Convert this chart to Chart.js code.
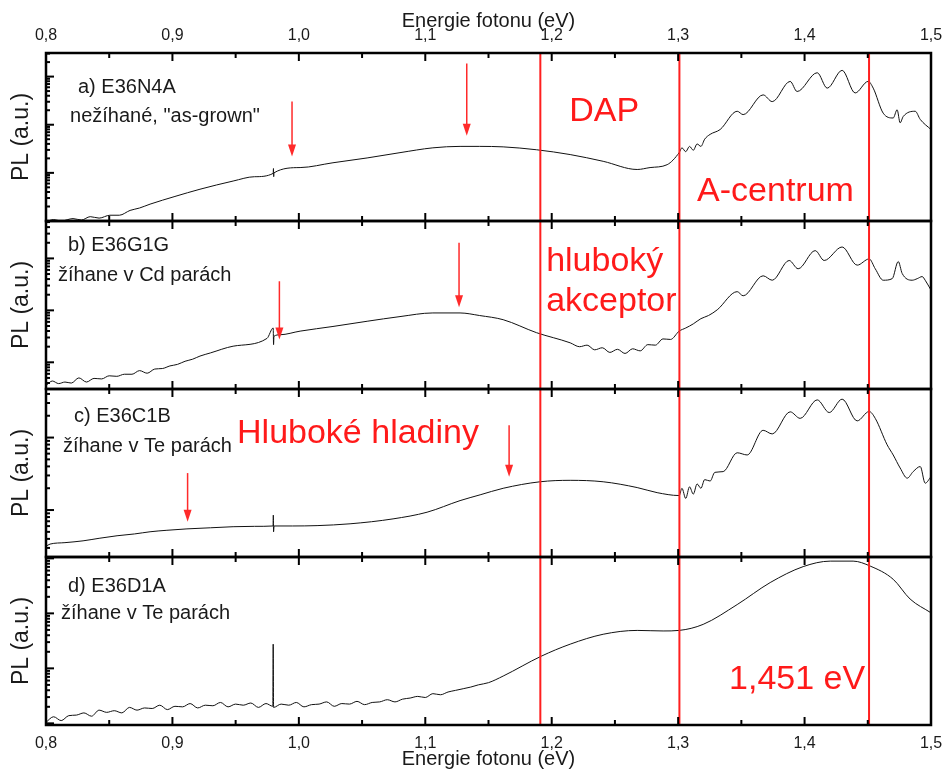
<!DOCTYPE html>
<html>
<head>
<meta charset="utf-8">
<script src="https://cdn.jsdelivr.net/npm/chart.js@4.4.1/dist/chart.umd.min.js"></script>
<style>
  body { margin: 0; background: #fff; }
  canvas { display: block; }
</style>
</head>
<body>
<canvas id="plChart" width="947" height="769"></canvas>
<script>
// Fotoluminiscence CdTe vzorku - 4 panely, log osa PL
// energie (eV) a log10(PL)

const eA = [0.800, 0.806, 0.812, 0.8214, 0.828, 0.835, 0.842, 0.8506, 0.858, 0.8665, 0.874, 0.8823, 0.902, 0.9218, 0.948, 0.965,
  0.9797, 0.9799, 0.9801, 0.9803, 1.001, 1.027, 1.054, 1.080, 1.106, 1.1275, 1.143, 1.1616, 1.188, 1.2146, 1.2407, 1.2676, 1.2778,
  1.2913, 1.3008, 1.303, 1.306, 1.309, 1.312, 1.315, 1.318, 1.321, 1.3253, 1.3332, 1.3467, 1.3514, 1.3672, 1.3744, 1.3886, 1.3941,
  1.410, 1.4179, 1.4297, 1.440, 1.4503, 1.4543, 1.4622, 1.4701, 1.4732, 1.4756, 1.478, 1.4875, 1.4915, 1.500];
const plA = [-0.02, 0.03, 0.00, 0.05, 0.02, 0.09, 0.06, 0.12, 0.12, 0.22, 0.27, 0.35, 0.51, 0.66, 0.83, 0.92,
  0.99, 1.09, 0.92, 1.00, 1.11, 1.21, 1.31, 1.42, 1.52, 1.55, 1.55, 1.54, 1.48, 1.38, 1.24, 1.07, 1.11,
  1.17, 1.42, 1.52, 1.44, 1.55, 1.47, 1.60, 1.55, 1.70, 1.80, 1.90, 2.28, 2.21, 2.62, 2.48, 2.90, 2.69,
  3.08, 2.76, 3.13, 2.66, 2.90, 2.76, 2.24, 2.14, 2.31, 2.04, 2.17, 2.28, 2.11, 1.90];

const eB = [0.800, 0.805, 0.810, 0.815, 0.820, 0.826, 0.832, 0.838, 0.844, 0.850, 0.856, 0.862, 0.868, 0.874, 0.880, 0.886, 0.892,
  0.898, 0.904, 0.910, 0.916, 0.9218, 0.930, 0.948, 0.9748, 0.9797, 0.980, 0.9803, 0.9851, 1.001, 1.027, 1.054, 1.080, 1.106, 1.1275,
  1.143, 1.1616, 1.188, 1.2146, 1.222, 1.228, 1.234, 1.240, 1.246, 1.252, 1.258, 1.264, 1.270, 1.276, 1.282, 1.288, 1.294, 1.3008,
  1.306, 1.312, 1.318, 1.324, 1.3309, 1.3467, 1.3514, 1.3672, 1.3744, 1.3878, 1.3949, 1.4084, 1.4155, 1.4297, 1.4416, 1.4511, 1.4559,
  1.4622, 1.4693, 1.4741, 1.4772, 1.4851, 1.4891, 1.4930, 1.4954, 1.500];
const plB = [0.55, 0.64, 0.59, 0.62, 0.60, 0.70, 0.62, 0.69, 0.68, 0.74, 0.73, 0.77, 0.77, 0.84, 0.79, 0.87, 0.88,
  0.93, 0.96, 1.02, 1.06, 1.12, 1.18, 1.31, 1.46, 1.66, 1.34, 1.50, 1.53, 1.60, 1.69, 1.79, 1.88, 1.95, 1.95,
  1.90, 1.82, 1.57, 1.375, 1.30, 1.33, 1.24, 1.28, 1.19, 1.25, 1.17, 1.26, 1.22, 1.34, 1.33, 1.45, 1.44, 1.60,
  1.66, 1.74, 1.84, 1.90, 2.01, 2.36, 2.28, 2.665, 2.58, 2.96, 2.80, 3.15, 2.96, 3.22, 2.87, 2.99, 2.80,
  2.58, 2.61, 2.94, 2.71, 2.58, 2.61, 2.65, 2.58, 2.39];

const eC = [0.800, 0.8032, 0.815, 0.8293, 0.842, 0.8562, 0.870, 0.8823, 0.895, 0.9115, 0.930, 0.948, 0.965, 0.9796, 0.9798, 0.980, 0.9804,
  0.995, 1.0144, 1.0405, 1.0745, 1.1014, 1.1275, 1.1434, 1.1616, 1.1908, 1.2146, 1.2407, 1.2676, 1.2834, 1.3008, 1.303, 1.306, 1.309,
  1.312, 1.315, 1.318, 1.321, 1.3253, 1.329, 1.3356, 1.3467, 1.3546, 1.3672, 1.3744, 1.3886, 1.3965, 1.410, 1.4195, 1.4297, 1.4416,
  1.4511, 1.4559, 1.4653, 1.4701, 1.4756, 1.4812, 1.4859, 1.4915, 1.4954, 1.500];
const plC = [0.50, 0.53, 0.55, 0.575, 0.61, 0.645, 0.67, 0.70, 0.72, 0.74, 0.755, 0.77, 0.775, 0.78, 0.93, 0.70, 0.78,
  0.78, 0.785, 0.81, 0.878, 0.97, 1.13, 1.21, 1.30, 1.39, 1.41, 1.39, 1.31, 1.24, 1.20, 1.30, 1.16, 1.32,
  1.22, 1.36, 1.30, 1.42, 1.40, 1.52, 1.53, 1.79, 1.76, 2.10, 2.05, 2.355, 2.265, 2.52, 2.345, 2.53, 2.23,
  2.36, 2.265, 1.90, 1.76, 1.58, 1.44, 1.53, 1.60, 1.37, 1.46];

const eD = [0.800, 0.806, 0.812, 0.818, 0.824, 0.830, 0.836, 0.842, 0.848, 0.854, 0.860, 0.866, 0.872, 0.878, 0.884, 0.890, 0.896,
  0.902, 0.908, 0.914, 0.920, 0.926, 0.932, 0.938, 0.944, 0.950, 0.956, 0.962, 0.968, 0.974, 0.9794, 0.9797, 0.980, 0.986, 0.992,
  0.998, 1.004, 1.010, 1.016, 1.022, 1.028, 1.034, 1.040, 1.046, 1.052, 1.058, 1.064, 1.070, 1.076, 1.082, 1.088, 1.094, 1.100,
  1.106, 1.112, 1.118, 1.124, 1.130, 1.136, 1.142, 1.150, 1.1616, 1.1916, 1.2146, 1.2407, 1.2676, 1.2881, 1.3008, 1.3198, 1.3467,
  1.3728, 1.3989, 1.4203, 1.4384, 1.4519, 1.4701, 1.4835, 1.500];
const plD = [0.02, 0.12, 0.05, 0.14, 0.15, 0.19, 0.13, 0.24, 0.20, 0.23, 0.19, 0.29, 0.24, 0.28, 0.27, 0.33, 0.25,
  0.31, 0.30, 0.36, 0.28, 0.33, 0.32, 0.38, 0.30, 0.35, 0.33, 0.37, 0.29, 0.36, 0.31, 1.44, 0.29, 0.35, 0.33,
  0.38, 0.30, 0.34, 0.35, 0.39, 0.31, 0.36, 0.35, 0.40, 0.34, 0.38, 0.39, 0.43, 0.39, 0.44, 0.46, 0.49, 0.47,
  0.54, 0.52, 0.57, 0.60, 0.63, 0.66, 0.70, 0.74, 0.86, 1.22, 1.44, 1.62, 1.69, 1.68, 1.69, 1.80, 2.16,
  2.56, 2.85, 2.95, 2.95, 2.86, 2.62, 2.26, 2.01];

const energies = [eA, eB, eC, eD];
const plLogs = [plA, plB, plC, plD];

// rozsahy log osy kazdeho panelu (log10)
const panelIds = ['yA', 'yB', 'yC', 'yD'];
const panelLogMin = [0, 0.486, 0.352, -0.03];
const panelLogMax = [3.49, 3.72, 2.67, 3.025];

const xTickStep = 0.1;
const markerLines = [1.191, 1.301, 1.451];

// popisky vzorku: [panel, energie, log10 PL, text]
const sampleLabels = [
  ['yA', 0.8253, 2.77, 'a) E36N4A'],
  ['yA', 0.819, 2.17, 'nežíhané, "as-grown"'],
  ['yB', 0.8174, 3.24, 'b) E36G1G'],
  ['yB', 0.8095, 2.67, 'žíhane v Cd parách'],
  ['yC', 0.8222, 2.29, 'c) E36C1B'],
  ['yC', 0.8134, 1.88, 'žíhane v Te parách'],
  ['yD', 0.8174, 2.49, 'd) E36D1A'],
  ['yD', 0.8119, 2.00, 'žíhane v Te parách']
];
const redLabels = [
  ['yA', 1.2138, 2.27, 'DAP'],
  ['yA', 1.315, 0.615, 'A-centrum'],
  ['yB', 1.1956, 2.94, 'hluboký'],
  ['yB', 1.1956, 2.175, 'akceptor'],
  ['yC', 0.9511, 2.05, 'Hluboké hladiny'],
  ['yD', 1.3403, 0.80, '1,451 eV']
];
// sipky: [panel, energie, log od, log do]
const arrows = [
  ['yA', 0.9946, 2.48, 1.34],
  ['yA', 1.1328, 3.27, 1.77],
  ['yB', 0.9846, 2.56, 1.44],
  ['yB', 1.1267, 3.30, 2.06],
  ['yC', 0.912, 1.51, 0.84],
  ['yC', 1.1663, 2.17, 1.46]
];

const FONT = 'Arial, "Liberation Sans", sans-serif';
Chart.defaults.font.family = FONT;
Chart.defaults.color = '#1a1a1a';

const panelDecor = {
  id: 'panelDecor',
  afterDatasetsDraw(chart) {
    const ctx = chart.ctx;
    const x = chart.scales.x;
    const area = chart.chartArea;
    const seg = (x1, y1, x2, y2) => { ctx.beginPath(); ctx.moveTo(x1, y1); ctx.lineTo(x2, y2); ctx.stroke(); };
    ctx.save();

    // cervene svisle cary
    ctx.strokeStyle = '#ff1f1f';
    ctx.lineWidth = 2;
    markerLines.forEach(e => {
      const px = x.getPixelForValue(e);
      seg(px, area.top, px, area.bottom);
    });

    // ramecky a vnitrni tiky
    ctx.strokeStyle = '#000';
    panelIds.forEach((id, i) => {
      const y = chart.scales[id];
      ctx.lineWidth = 2.5;
      ctx.strokeRect(x.left, y.top, x.right - x.left, y.bottom - y.top);
      ctx.lineWidth = 2;
      for (let k = 0; k <= 14; k++) {
        const px = x.getPixelForValue(x.min + k * xTickStep / 2);
        const len = k % 2 === 0 ? 8 : 5;
        seg(px, y.top, px, y.top + len);
        seg(px, y.bottom, px, y.bottom - len);
      }
      const lo = Math.floor(panelLogMin[i]), hi = Math.ceil(panelLogMax[i]);
      for (let p = lo; p <= hi; p++) {
        for (let m = 1; m <= 9; m++) {
          const v = m * Math.pow(10, p);
          if (v < y.min || v > y.max) continue;
          const py = y.getPixelForValue(v);
          seg(x.left, py, x.left + (m === 1 ? 8 : 4), py);
        }
      }
    });

    // sipky
    ctx.strokeStyle = '#ff2a2a';
    ctx.fillStyle = '#ff2a2a';
    ctx.lineWidth = 1.5;
    arrows.forEach(([id, e, l1, l2]) => {
      const y = chart.scales[id];
      const px = x.getPixelForValue(e);
      const y1 = y.getPixelForValue(Math.pow(10, l1));
      const y2 = y.getPixelForValue(Math.pow(10, l2));
      seg(px, y1, px, y2 - 11);
      ctx.beginPath();
      ctx.moveTo(px - 4, y2 - 12);
      ctx.lineTo(px + 4, y2 - 12);
      ctx.lineTo(px, y2);
      ctx.closePath();
      ctx.fill();
    });

    // texty
    ctx.textAlign = 'left';
    ctx.textBaseline = 'middle';
    ctx.font = '20px ' + FONT;
    ctx.fillStyle = '#1a1a1a';
    sampleLabels.forEach(([id, e, l, t]) => {
      ctx.fillText(t, x.getPixelForValue(e), chart.scales[id].getPixelForValue(Math.pow(10, l)));
    });
    ctx.font = '34px ' + FONT;
    ctx.fillStyle = '#ff1a1a';
    redLabels.forEach(([id, e, l, t]) => {
      ctx.fillText(t, x.getPixelForValue(e), chart.scales[id].getPixelForValue(Math.pow(10, l)));
    });
    ctx.restore();
  }
};

const fmtTick = v => Number(v).toFixed(1).replace('.', ',');
const noGrid = { display: false, drawTicks: false };
// popisky 0,8 a 1,5 smi presahovat pres okraj plochy
const noEdgePad = s => { s.paddingLeft = 0; s.paddingRight = 0; };

const scales = {
  x: {
    type: 'linear', position: 'bottom', min: 0.8, max: 1.5,
    grid: noGrid, border: { display: false }, afterFit: noEdgePad,
    ticks: { stepSize: xTickStep, padding: 11, callback: fmtTick, font: { size: 16, lineHeight: 1 }, color: '#1a1a1a' },
    title: { display: true, text: 'Energie fotonu (eV)', font: { size: 20, lineHeight: 1 }, padding: { top: -14, bottom: 0 }, color: '#1a1a1a' }
  },
  x2: {
    type: 'linear', position: 'top', min: 0.8, max: 1.5,
    grid: noGrid, border: { display: false }, afterFit: noEdgePad,
    ticks: { stepSize: xTickStep, padding: 9, callback: fmtTick, font: { size: 16, lineHeight: 1 }, color: '#1a1a1a' },
    title: { display: true, text: 'Energie fotonu (eV)', font: { size: 20, lineHeight: 1 }, padding: { top: 11, bottom: -12 }, color: '#1a1a1a' }
  }
};
// prvni osa ve stacku je dole -> vkladat od spodniho panelu
panelIds.slice().reverse().forEach(id => {
  const i = panelIds.indexOf(id);
  scales[id] = {
    type: 'logarithmic', position: 'left', stack: 'pl', stackWeight: 1,
    min: Math.pow(10, panelLogMin[i]), max: Math.pow(10, panelLogMax[i]),
    grid: noGrid, border: { display: false },
    ticks: { display: false },
    title: { display: true, text: 'PL (a.u.)', font: { size: 23, lineHeight: 1 }, padding: { top: 10, bottom: 13 }, color: '#1a1a1a' }
  };
});

new Chart(document.getElementById('plChart'), {
  type: 'line',
  data: {
    datasets: panelIds.map((id, i) => ({
      data: energies[i].map((e, j) => ({ x: e, y: Math.pow(10, plLogs[i][j]) })),
      xAxisID: 'x',
      yAxisID: id,
      borderColor: '#111',
      borderWidth: 1,
      pointRadius: 0,
      cubicInterpolationMode: 'monotone'
    }))
  },
  options: {
    responsive: false,
    animation: false,
    layout: { padding: { left: 0, right: 16, top: 0, bottom: 0 } },
    plugins: { legend: { display: false }, tooltip: { enabled: false } },
    scales: scales
  },
  plugins: [panelDecor]
});
</script>
</body>
</html>
